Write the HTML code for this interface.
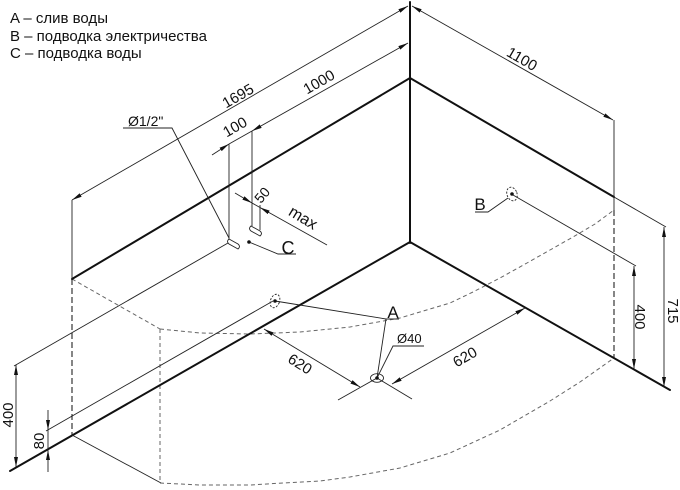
<!DOCTYPE html>
<html><head><meta charset="utf-8"><style>
html,body{margin:0;padding:0;background:#fff;}
svg{display:block}
text{font-family:"Liberation Sans","DejaVu Sans",sans-serif;fill:#111}
</style></head><body>
<svg width="680" height="490" viewBox="0 0 680 490" xmlns="http://www.w3.org/2000/svg">
<defs>
<marker id="a" markerUnits="userSpaceOnUse" markerWidth="10" markerHeight="6" refX="10" refY="3" orient="auto-start-reverse">
<path d="M0,1 L10,3 L0,5 z" fill="#111"/>
</marker>
</defs>
<rect width="680" height="490" fill="#fff"/>

<!-- legend -->
<text x="10" y="23" font-size="15">A – слив воды</text>
<text x="10" y="41" font-size="15">B – подводка электричества</text>
<text x="10" y="58" font-size="15">C – подводка воды</text>

<!-- dashed bath outline -->
<g fill="none" stroke="#666" stroke-width="1" stroke-dasharray="4,3">
<path d="M72,279 L160,329"/>
<polyline points="160,329 200,333 250,334 300,332 350,327 400,318 450,303 473,292 500,278 527,263 550,250 573,237 595,224 614,210"/>
<polyline points="160,483 200,485 250,485 283,483 320,481 350,477 400,468 450,453 500,430 550,401 580,382 614,358"/>
<path d="M160,329 L160,482"/>
</g>
<g fill="none" stroke="#222" stroke-width="1.1" stroke-dasharray="6,3">
<path d="M72,279 L72,435"/>
<path d="M614,210 L614,358"/>
</g>

<!-- thick main lines -->
<g fill="none" stroke="#111" stroke-width="2" stroke-linecap="round">
<path d="M410,2 L410,243"/>
<path d="M410,78 L72,279"/>
<path d="M410,242 L10,471"/>
<path d="M410,78 L614,197"/>
<path d="M410,242 L670,390"/>
</g>

<!-- thin solid lines -->
<g fill="none" stroke="#222" stroke-width="0.9">
<path d="M614,197 L666,227"/>
<path d="M72,200 L72,279"/>
<path d="M614,120 L614,210"/>
<path d="M72,435 L161,483"/>
<path d="M228,243 L14,366"/>
<path d="M273,301 L46,431"/>
<path d="M513,195 L636,266"/>
<path d="M123,128 L172,128 L229,238"/>
<path d="M229,144 L229,239"/>
<path d="M252,131 L252,226"/>
<path d="M260,205 L260,230"/>
<path d="M249,242 L278,254 L296,254"/>
<path d="M475,212 L488,212 L508,198"/>
<path d="M275,301 L386,319 L399,319"/>
<path d="M386,319 L377,378"/>
<path d="M424,346 L393,346 L377,378"/>
<path d="M338,400 L377,378"/>
<path d="M377,378 L412,399"/>
<path d="M229,144 L252,131"/>
<path d="M252,203 L260,207.5"/>
<path d="M48,430 L48,450"/>
</g>

<!-- dimension lines with arrows -->
<g fill="none" stroke="#222" stroke-width="0.9" marker-start="url(#a)" marker-end="url(#a)">
<path d="M72,200 L408,6"/>
<path d="M412,6 L613,120"/>
<path d="M252,131 L408,43"/>
<path d="M264,329 L360,387"/>
<path d="M525,308 L392,384"/>
<path d="M664,227 L664,387"/>
<path d="M634,266 L634,369"/>
<path d="M16,365 L16,467"/>
</g>
<g fill="none" stroke="#222" stroke-width="0.9" marker-end="url(#a)">
<path d="M212,155 L229,144"/>
<path d="M235,193 L252,203"/>
<path d="M327,245 L260,207.5"/>
<path d="M48,410 L48,430"/>
<path d="M48,472 L48,450"/>
</g>

<!-- stubs / points -->
<g fill="none" stroke="#222" stroke-width="0.9">
<path d="M229,239 L238,244 Q241,246.5 238,249 L229,244 Q226,241.5 229,239 z"/>
<path d="M251,226 L260,231 Q263,233.5 260,236 L251,231 Q248,228.5 251,226 z"/>
<ellipse cx="377" cy="378" rx="6.5" ry="4.3"/>
</g>
<g fill="none" stroke="#222" stroke-width="0.9" stroke-dasharray="2,1.5">
<ellipse cx="275" cy="301" rx="4.5" ry="7" transform="rotate(20 275 301)"/>
<ellipse cx="512" cy="194" rx="5" ry="7" transform="rotate(-20 512 194)"/>
</g>
<g fill="#111">
<circle cx="275" cy="301" r="1.8"/>
<circle cx="512" cy="194" r="1.8"/>
<circle cx="249" cy="242" r="1.8"/>
<circle cx="377" cy="378" r="1.8"/>
</g>

<!-- labels -->
<text x="238" y="101" font-size="15" text-anchor="middle" transform="rotate(-30 238 96)">1695</text>
<text x="319" y="87" font-size="15" text-anchor="middle" transform="rotate(-30 319 82)">1000</text>
<text x="235" y="132" font-size="15" text-anchor="middle" transform="rotate(-30 235 127)">100</text>
<text x="522" y="64" font-size="15" text-anchor="middle" transform="rotate(30 522 59)">1100</text>
<text x="128" y="126" font-size="14">Ø1/2"</text>
<text x="262" y="200" font-size="14" text-anchor="middle" transform="rotate(-50 262 195)">50</text>
<text x="303" y="223" font-size="16" text-anchor="middle" transform="rotate(31 303 218)">max</text>
<text x="288" y="254" font-size="18" text-anchor="middle">C</text>
<text x="480" y="210" font-size="17" text-anchor="middle">B</text>
<text x="393" y="318" font-size="17" text-anchor="middle">A</text>
<text x="397" y="343" font-size="13">Ø40</text>
<text x="300" y="369" font-size="15" text-anchor="middle" transform="rotate(32 300 364)">620</text>
<text x="465" y="362" font-size="15" text-anchor="middle" transform="rotate(-30 465 357)">620</text>
<text x="640" y="322" font-size="15" text-anchor="middle" transform="rotate(90 640 317)">400</text>
<text x="673" y="316" font-size="15" text-anchor="middle" transform="rotate(90 673 311)">715</text>
<text x="8" y="420" font-size="15" text-anchor="middle" transform="rotate(-90 8 415)">400</text>
<text x="39" y="446" font-size="15" text-anchor="middle" transform="rotate(-90 39 441)">80</text>
</svg>
</body></html>
